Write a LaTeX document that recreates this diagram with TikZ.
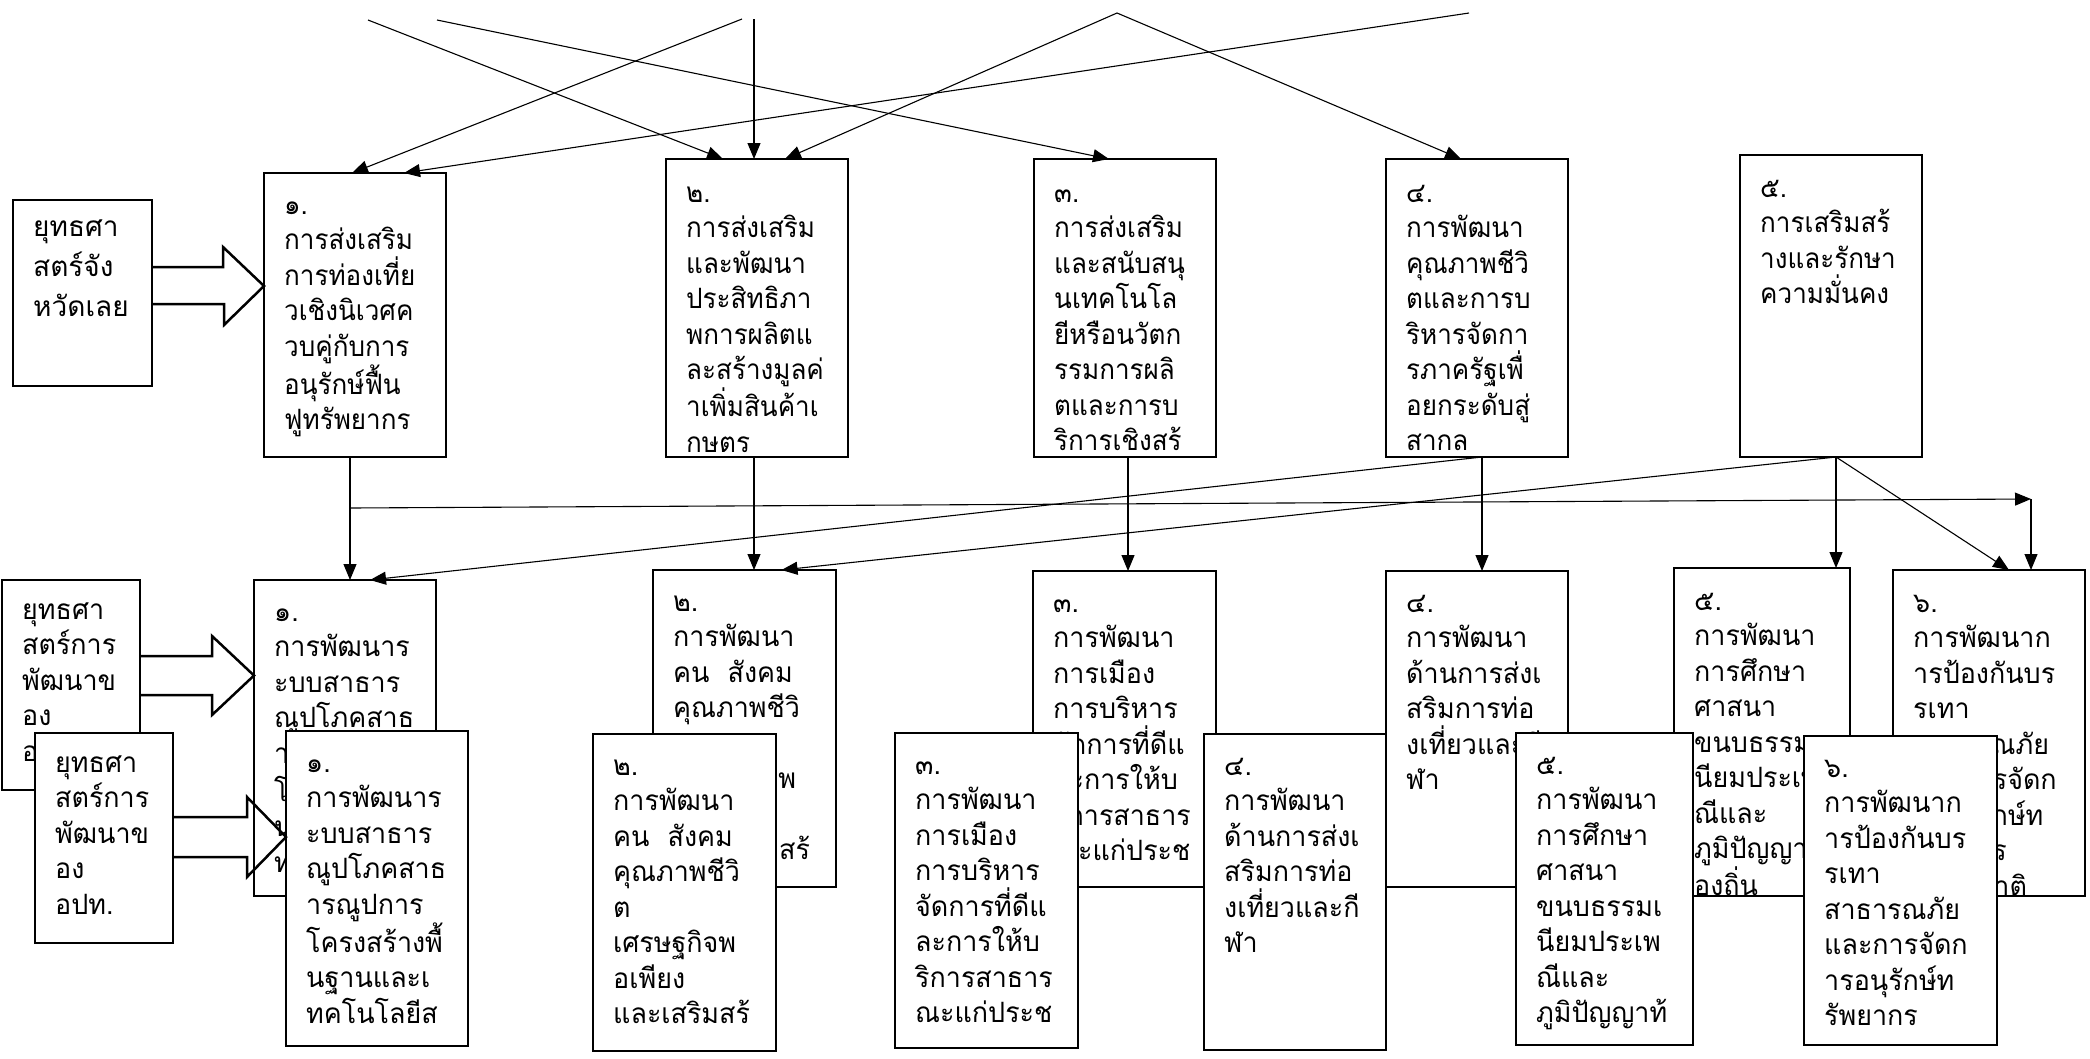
\documentclass[tikz,border=0pt]{standalone}
\usepackage{fontspec}
\newfontfamily\thaifont[Script=Thai]{Loma}
\newfontfamily\thaitop[Script=Thai,FakeStretch=0.93]{Loma}
\newfontfamily\thailow[Script=Thai,FakeStretch=0.96]{Loma}
\newcommand{\topfont}{\thaitop\fontsize{28}{35.5}\selectfont}
\newcommand{\lowfont}{\thailow\fontsize{28}{35.5}\selectfont}
\usetikzlibrary{arrows.meta}
% text of a box, cut at the box border
\newcommand{\boxtext}[4]{%
    \begin{scope}
        \clip (#1.north west) rectangle (#1.south east);
        \node[lines, font=#2] at ([xshift=20pt,yshift=-#3]#1.north west) {\strut#4};
    \end{scope}}

\begin{document}
\begin{tikzpicture}[x=1pt,y=-1pt]
    \tikzset{
        box/.style={draw, line width=1.4pt, fill=white, anchor=north west,
            inner sep=0pt, outer sep=0pt},
        lines/.style={anchor=north west, inner sep=0pt, align=left},
        link/.style={line width=1.1pt, -{Triangle[length=16pt,width=13pt]}},
        fat/.style={line width=2.5pt, line join=miter},
    }
    \useasboundingbox (0,0) rectangle (2090,1058);
    % top row
    \node[box, minimum width=139pt, minimum height=186pt] (s1) at (13,200) {};
    \boxtext{s1}{\thaifont\fontsize{28}{40}\selectfont}{8pt}{ยุทธศา\\สตร์จัง\\หวัดเลย}
    \node[box, minimum width=182pt, minimum height=284pt] (t1) at (264,173) {};
    \boxtext{t1}{\topfont}{16pt}{๑.\\การส่งเสริม\\การท่องเที่ย\\วเชิงนิเวศค\\วบคู่กับการ\\อนุรักษ์ฟื้น\\ฟูทรัพยากร}
    \node[box, minimum width=182pt, minimum height=298pt] (t2) at (666,159) {};
    \boxtext{t2}{\topfont}{18pt}{๒.\\การส่งเสริม\\และพัฒนา\\ประสิทธิภา\\พการผลิตแ\\ละสร้างมูลค่\\าเพิ่มสินค้าเ\\กษตร}
    \node[box, minimum width=182pt, minimum height=298pt] (t3) at (1034,159) {};
    \boxtext{t3}{\topfont}{18pt}{๓.\\การส่งเสริม\\และสนับสนุ\\นเทคโนโล\\ยีหรือนวัตก\\รรมการผลิ\\ตและการบ\\ริการเชิงสร้}
    \node[box, minimum width=182pt, minimum height=298pt] (t4) at (1386,159) {};
    \boxtext{t4}{\topfont}{18pt}{๔.\\การพัฒนา\\คุณภาพชีวิ\\ตและการบ\\ริหารจัดกา\\รภาครัฐเพื่\\อยกระดับสู่\\สากล}
    \node[box, minimum width=182pt, minimum height=302pt] (t5) at (1740,155) {};
    \boxtext{t5}{\topfont}{17pt}{๕.\\การเสริมสร้\\างและรักษา\\ความมั่นคง}
    \draw[fat] (s1.east |- 0,267) -- ++(71,0) -- ++(0,-20) -- (t1.west |- 0,286)
        -- ++(-40,39) -- ++(0,-21) -- ++(-71,0);

    % free ends at the top
    \coordinate (a1) at (368,20);
    \coordinate (a2) at (437,20);
    \coordinate (a3) at (742,19);
    \coordinate (a4) at (754,19);
    \coordinate (a5) at (1117,13);
    \coordinate (a6) at (1469,13);
    \draw[link] (a1) -- ([xshift=-34pt]t2.north);
    \draw[link] (a2) -- ([xshift=-16pt]t3.north);
    \draw[link] (a3) -- ([xshift=-3pt]t1.north);
    \draw[link] (a4) -- (a4 |- t2.north);
    \draw[link] (a5) -- ([xshift=28pt]t2.north);
    \draw[link] (a5) -- ([xshift=-16pt]t4.north);
    \draw[link] (a6) -- ([xshift=49pt]t1.north);

    % second row, back
    \node[box, minimum width=138pt, minimum height=210pt] (s2) at (2,580) {};
    \boxtext{s2}{\lowfont}{14pt}{ยุทธศา\\สตร์การ\\พัฒนาข\\อง\\อปท.}
    \node[box, minimum width=182pt, minimum height=316pt] (b1) at (254,580) {};
    \boxtext{b1}{\lowfont}{16pt}{๑.\\การพัฒนาร\\ะบบสาธาร\\ณูปโภคสาธ\\ารณูปการ\\โครงสร้างพื้\\นฐานและเ\\ทคโนโลยีส}
    \node[box, minimum width=183pt, minimum height=317pt] (b2) at (653,570) {};
    \boxtext{b2}{\lowfont}{16pt}{๒.\\การพัฒนา\\คน~~สังคม\\คุณภาพชีวิ\\ต\\เศรษฐกิจพ\\อเพียง\\และเสริมสร้}
    \node[box, minimum width=183pt, minimum height=316pt] (b3) at (1033,571) {};
    \boxtext{b3}{\lowfont}{16pt}{๓.\\การพัฒนา\\การเมือง\\การบริหาร\\จัดการที่ดีแ\\ละการให้บ\\ริการสาธาร\\ณะแก่ประช}
    \node[box, minimum width=182pt, minimum height=316pt] (b4) at (1386,571) {};
    \boxtext{b4}{\lowfont}{16pt}{๔.\\การพัฒนา\\ด้านการส่งเ\\สริมการท่อ\\งเที่ยวและกี\\ฬา}
    \node[box, minimum width=176pt, minimum height=328pt] (b5) at (1674,568) {};
    \boxtext{b5}{\lowfont}{17pt}{๕.\\การพัฒนา\\การศึกษา\\ศาสนา\\ขนบธรรมเ\\นียมประเพ\\ณีและ\\ภูมิปัญญาท้\\องถิ่น}
    \node[box, minimum width=192pt, minimum height=326pt] (b6) at (1893,570) {};
    \boxtext{b6}{\lowfont}{17pt}{๖.\\การพัฒนาก\\ารป้องกันบร\\รเทา\\สาธารณภัย\\และการจัดก\\ารอนุรักษ์ท\\รัพยากร\\ธรรมชาติ}
    \draw[fat] (s2.east |- 0,656) -- ++(72,0) -- ++(0,-20) -- (b1.west |- 0,675.5)
        -- ++(-42,39.5) -- ++(0,-20) -- ++(-72,0);

    % links between the rows
    \coordinate (j1) at ([xshift=-5pt]t1.south |- 0,508);
    \coordinate (k6) at (2031,499);
    \draw[link] ([xshift=-5pt]t1.south) -- (j1) -- (j1 |- b1.north);
    \draw[link] (j1) -- (k6);
    \draw[link] (k6) -- (k6 |- b6.north);
    \draw[link] ([xshift=-3pt]t2.south) -- ([xshift=-3pt]t2.south |- b2.north);
    \draw[link] ([xshift=3pt]t3.south) -- ([xshift=3pt]t3.south |- b3.north);
    \draw[link] ([xshift=5pt]t4.south) -- ([xshift=5pt]t4.south |- b4.north);
    \draw[link] ([xshift=5pt]t4.south) -- ([xshift=25pt]b1.north);
    \draw[link] ([xshift=5pt]t5.south) -- ([xshift=37pt]b2.north);
    \draw[link] ([xshift=5pt]t5.south) -- ([xshift=5pt]t5.south |- b5.north);
    \draw[link] ([xshift=5pt]t5.south) -- ([xshift=20pt]b6.north);

    % second row, front
    \node[box, minimum width=138pt, minimum height=210pt] (s3) at (35,733) {};
    \boxtext{s3}{\lowfont}{14pt}{ยุทธศา\\สตร์การ\\พัฒนาข\\อง\\อปท.}
    \node[box, minimum width=182pt, minimum height=315pt] (f1) at (286,731) {};
    \boxtext{f1}{\lowfont}{16pt}{๑.\\การพัฒนาร\\ะบบสาธาร\\ณูปโภคสาธ\\ารณูปการ\\โครงสร้างพื้\\นฐานและเ\\ทคโนโลยีส}
    \node[box, minimum width=183pt, minimum height=317pt] (f2) at (593,734) {};
    \boxtext{f2}{\lowfont}{16pt}{๒.\\การพัฒนา\\คน~~สังคม\\คุณภาพชีวิ\\ต\\เศรษฐกิจพ\\อเพียง\\และเสริมสร้}
    \node[box, minimum width=183pt, minimum height=315pt] (f3) at (895,733) {};
    \boxtext{f3}{\lowfont}{16pt}{๓.\\การพัฒนา\\การเมือง\\การบริหาร\\จัดการที่ดีแ\\ละการให้บ\\ริการสาธาร\\ณะแก่ประช}
    \node[box, minimum width=182pt, minimum height=316pt] (f4) at (1204,734) {};
    \boxtext{f4}{\lowfont}{16pt}{๔.\\การพัฒนา\\ด้านการส่งเ\\สริมการท่อ\\งเที่ยวและกี\\ฬา}
    \node[box, minimum width=177pt, minimum height=312pt] (f5) at (1516,733) {};
    \boxtext{f5}{\lowfont}{16pt}{๕.\\การพัฒนา\\การศึกษา\\ศาสนา\\ขนบธรรมเ\\นียมประเพ\\ณีและ\\ภูมิปัญญาท้}
    \node[box, minimum width=193pt, minimum height=309pt] (f6) at (1804,736) {};
    \boxtext{f6}{\lowfont}{16pt}{๖.\\การพัฒนาก\\ารป้องกันบร\\รเทา\\สาธารณภัย\\และการจัดก\\ารอนุรักษ์ท\\รัพยากร}
    \draw[fat] (s3.east |- 0,817) -- ++(74,0) -- ++(0,-20) -- (f1.west |- 0,837)
        -- ++(-39,40) -- ++(0,-20) -- ++(-74,0);
\end{tikzpicture}
\end{document}
